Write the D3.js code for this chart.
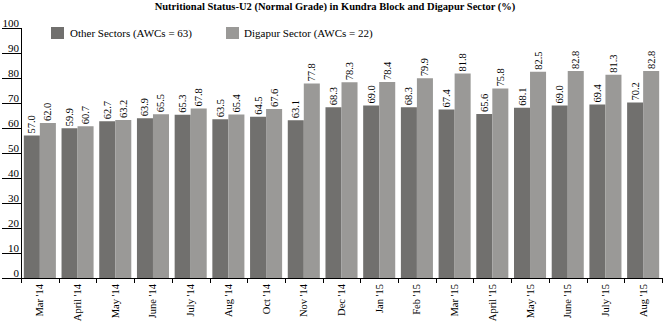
<!DOCTYPE html>
<html><head><meta charset="utf-8">
<script src="https://cdn.jsdelivr.net/npm/d3@7"></script>
<style>body{margin:0;background:#fff}svg{display:block}text{font-family:"Liberation Serif","DejaVu Serif",serif;fill:#000}</style>
</head><body><svg id="c" width="664" height="322"></svg>
<script>
const categories = ["Mar '14","April '14","May '14","June '14","July '14","Aug '14","Oct '14","Nov '14","Dec '14","Jan '15","Feb '15","Mar '15","April '15","May '15","June '15","July '15","Aug '15"];
const otherSectors = [57.0,59.9,62.7,63.9,65.3,63.5,64.5,63.1,68.3,69.0,68.3,67.4,65.6,68.1,69.0,69.4,70.2];
const digapurSector = [62.0,60.7,63.2,65.5,67.8,65.4,67.6,77.8,78.3,78.4,79.9,81.8,75.8,82.5,82.8,81.3,82.8];
const seriesNames = ["Other Sectors (AWCs = 63)","Digapur Sector (AWCs = 22)"];
const yTicks = [0,10,20,30,40,50,60,70,80,90,100];
const title = "Nutritional Status-U2 (Normal Grade) in Kundra Block and Digapur Sector (%)";

const colors = ["#71706e","#9a9997"];
const svg = d3.select("#c");
const L = 21, R = 662, T = 28, B = 278;

const x0 = d3.scaleBand().domain(categories).range([L, R]).paddingInner(0.15).paddingOuter(0.075);
const keys = [0,1];
const x1 = d3.scaleBand().domain(keys).range([0, x0.bandwidth()]).padding(0);
const y = d3.scaleLinear().domain([0,100]).range([B, T]);
const data = categories.map((c,i)=>({cat:c, vals:[otherSectors[i], digapurSector[i]]}));

// title
svg.append("text").attr("x", 335).attr("y", 10).attr("text-anchor","middle")
  .attr("font-size", 10.5).attr("font-weight","bold").text(title);

// legend
const leg = [{x:51, tx:70},{x:226, tx:244}];
leg.forEach((l,i)=>{
  svg.append("rect").attr("x", l.x).attr("y", 27).attr("width", 13).attr("height", 12).attr("fill", colors[i]);
  svg.append("text").attr("x", l.tx).attr("y", 37).attr("font-size", 11).text(seriesNames[i]);
});

// bars
const g = svg.append("g");
const grp = g.selectAll("g.grp").data(data).enter().append("g").attr("transform", d=>`translate(${x0(d.cat)},0)`);
grp.selectAll("rect").data(d=>d.vals.map((v,k)=>({k,v}))).enter().append("rect")
  .attr("x", d=>x1(d.k)).attr("width", x1.bandwidth())
  .attr("y", d=>y(d.v)).attr("height", d=>B - y(d.v)).attr("fill", d=>colors[d.k]);
grp.selectAll("text").data(d=>d.vals.map((v,k)=>({k,v}))).enter().append("text")
  .attr("transform", d=>`translate(${x1(d.k)+x1.bandwidth()/2+3.5},${y(d.v)-2}) rotate(-90)`)
  .attr("font-size", 10.5).attr("text-anchor","start").text(d=>d.v.toFixed(1));

// y axis
svg.append("line").attr("x1", L+0.5).attr("x2", L+0.5).attr("y1", T).attr("y2", B).attr("stroke","#000");
yTicks.forEach(t=>{
  const yy = Math.round(y(t))+0.5;
  svg.append("line").attr("x1", 2).attr("x2", L).attr("y1", yy).attr("y2", yy).attr("stroke","#000");
  svg.append("text").attr("x", 19).attr("y", yy-2).attr("text-anchor","end").attr("font-size", 11).text(t);
});

// x axis
svg.append("line").attr("x1", L).attr("x2", R+1).attr("y1", B+0.5).attr("y2", B+0.5).attr("stroke","#000");
const step = x0.step();
const bounds = categories.map(c=>x0(c) - step*x0.paddingInner()/2).concat([R]);
bounds.forEach(bx=>{
  const xx = Math.round(bx)+0.5;
  svg.append("line").attr("x1", xx).attr("x2", xx).attr("y1", B).attr("y2", B+5).attr("stroke","#000");
});
categories.forEach(c=>{
  const cx = x0(c) + x0.bandwidth()/2;
  svg.append("text").attr("transform", `translate(${cx+3.5},${B+6}) rotate(-90)`)
    .attr("text-anchor","end").attr("font-size", 10.5).text(c);
});
</script></body></html>
